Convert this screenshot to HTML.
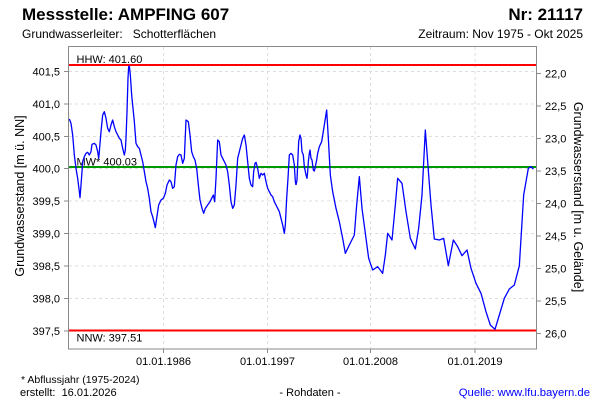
<!DOCTYPE html>
<html><head><meta charset="utf-8"><style>
html,body{margin:0;padding:0;background:#fff;}
svg{display:block;}
text{font-family:"Liberation Sans",Arial,sans-serif;fill:#000;}
</style></head><body>
<svg width="600" height="400" viewBox="0 0 600 400" xmlns="http://www.w3.org/2000/svg">
<rect width="600" height="400" fill="#fff"/>
<!-- header -->
<text x="22" y="20" font-size="17" font-weight="bold">Messstelle: AMPFING 607</text>
<text x="583" y="20" font-size="17" font-weight="bold" text-anchor="end">Nr: 21117</text>
<text x="22" y="38" font-size="12" xml:space="preserve">Grundwasserleiter:   Schotterflächen</text>
<text x="583" y="38" font-size="12" text-anchor="end">Zeitraum: Nov 1975 - Okt 2025</text>

<!-- grid -->
<g stroke="#dedede" stroke-width="1" stroke-dasharray="3,3" fill="none">
<line x1="69" x2="536" y1="71.5" y2="71.5"/>
<line x1="69" x2="536" y1="104" y2="104"/>
<line x1="69" x2="536" y1="136.5" y2="136.5"/>
<line x1="69" x2="536" y1="168.5" y2="168.5"/>
<line x1="69" x2="536" y1="201" y2="201"/>
<line x1="69" x2="536" y1="233.5" y2="233.5"/>
<line x1="69" x2="536" y1="266" y2="266"/>
<line x1="69" x2="536" y1="298.5" y2="298.5"/>
<line x1="163.5" x2="163.5" y1="47" y2="348"/>
<line x1="267.5" x2="267.5" y1="47" y2="348"/>
<line x1="370.5" x2="370.5" y1="47" y2="348"/>
<line x1="475" x2="475" y1="47" y2="348"/>
</g>

<!-- frame -->
<rect x="68.5" y="46.5" width="468" height="302.5" fill="none" stroke="#8a8a8a" stroke-width="1"/>

<!-- ticks -->
<g stroke="#8a8a8a" stroke-width="1">
<line x1="64" x2="68" y1="71.5" y2="71.5"/>
<line x1="64" x2="68" y1="104" y2="104"/>
<line x1="64" x2="68" y1="136.5" y2="136.5"/>
<line x1="64" x2="68" y1="168.5" y2="168.5"/>
<line x1="64" x2="68" y1="201" y2="201"/>
<line x1="64" x2="68" y1="233.5" y2="233.5"/>
<line x1="64" x2="68" y1="266" y2="266"/>
<line x1="64" x2="68" y1="298.5" y2="298.5"/>
<line x1="64" x2="68" y1="331" y2="331"/>
<line x1="537" x2="541" y1="73.5" y2="73.5"/>
<line x1="537" x2="541" y1="106" y2="106"/>
<line x1="537" x2="541" y1="138.5" y2="138.5"/>
<line x1="537" x2="541" y1="171" y2="171"/>
<line x1="537" x2="541" y1="203.5" y2="203.5"/>
<line x1="537" x2="541" y1="236" y2="236"/>
<line x1="537" x2="541" y1="268.5" y2="268.5"/>
<line x1="537" x2="541" y1="301" y2="301"/>
<line x1="537" x2="541" y1="333.5" y2="333.5"/>
<line x1="163.5" x2="163.5" y1="349" y2="353"/>
<line x1="267.5" x2="267.5" y1="349" y2="353"/>
<line x1="370.5" x2="370.5" y1="349" y2="353"/>
<line x1="475" x2="475" y1="349" y2="353"/>
</g>

<!-- left labels -->
<g font-size="11" text-anchor="end">
<text x="60" y="75.5">401,5</text>
<text x="60" y="108">401,0</text>
<text x="60" y="140.5">400,5</text>
<text x="60" y="172.5">400,0</text>
<text x="60" y="205">399,5</text>
<text x="60" y="237.5">399,0</text>
<text x="60" y="270">398,5</text>
<text x="60" y="302.5">398,0</text>
<text x="60" y="335">397,5</text>
</g>
<!-- right labels -->
<g font-size="11">
<text x="545" y="77.5">22,0</text>
<text x="545" y="110">22,5</text>
<text x="545" y="142.5">23,0</text>
<text x="545" y="175">23,5</text>
<text x="545" y="207.5">24,0</text>
<text x="545" y="240">24,5</text>
<text x="545" y="272.5">25,0</text>
<text x="545" y="305">25,5</text>
<text x="545" y="337.5">26,0</text>
</g>
<!-- x labels -->
<g font-size="11" text-anchor="middle">
<text x="163.5" y="365">01.01.1986</text>
<text x="267.5" y="365">01.01.1997</text>
<text x="370.5" y="365">01.01.2008</text>
<text x="475" y="365">01.01.2019</text>
</g>

<!-- axis titles -->
<text transform="translate(24,196) rotate(-90)" font-size="12.5" text-anchor="middle">Grundwasserstand [m ü. NN]</text>
<text transform="translate(574,197) rotate(90)" font-size="12.5" text-anchor="middle">Grundwasserstand [m u. Gelände]</text>

<!-- reference lines -->
<line x1="69" x2="536" y1="65" y2="65" stroke="#ff0000" stroke-width="2"/>
<line x1="69" x2="536" y1="167" y2="167" stroke="#009a00" stroke-width="2"/>
<line x1="69" x2="536" y1="330.5" y2="330.5" stroke="#ff0000" stroke-width="2"/>
<g font-size="11">
<text x="76.5" y="63">HHW: 401.60</text>
<text x="76.5" y="165.5">MW* 400.03</text>
<text x="76.5" y="341.5">NNW: 397.51</text>
</g>

<!-- data series -->
<g transform="translate(66,45) scale(0.333333)">
<polyline fill="none" stroke="#0000ff" stroke-width="1.3" vector-effect="non-scaling-stroke" stroke-linejoin="round" points="
10,222 15,235 20,270 25,330 30,370 35,400 40,440 42,458 45,420 48,380 50,350 55,335 60,325 65,322 70,330 75,320 78,298 85,295 90,300 95,320 98,340 100,320 105,260 110,210 115,200 120,220 125,250 130,260 135,240 140,225 145,245 150,260 155,270 160,280 165,285 170,310 175,330 178,315 180,280 183,200 186,100 188,65 190,63 193,90 197,150 200,180 205,230 210,295 215,305 220,310 225,330 230,350 235,380 240,410 245,430 250,460 255,500 260,515 265,535 268,548 272,520 278,480 285,465 292,460 298,445 303,420 310,405 315,410 320,430 325,425 330,360 335,335 340,328 345,330 350,355 355,340 360,225 367,230 372,270 377,320 382,335 387,345 392,370 397,420 402,465 408,490 413,505 418,490 425,480 432,470 437,460 442,450 446,470 450,400 455,285 460,290 465,330 470,340 475,350 480,360 485,380 490,420 495,470 500,490 505,480 510,420 515,340 520,320 525,300 530,280 535,270 540,300 545,350 550,400 555,420 560,425 563,380 567,355 570,352 575,370 580,400 585,385 590,390 595,385 600,410 605,430 610,440 615,450 620,455 625,470 630,480 635,490 640,500 645,520 650,540 655,565 658,540 662,460 666,400 670,330 675,325 680,330 685,360 688,410 690,420"/>
</g>
<g transform="translate(296,95) scale(0.333333)">
<polyline fill="none" stroke="#0000ff" stroke-width="1.3" vector-effect="non-scaling-stroke" stroke-linejoin="round" points="
0,270 3,255 8,140 12,120 15,130 18,170 22,180 25,215 30,240 33,250 35,230 37,200 40,175 42,165 45,190 48,195 52,225 55,228 58,215 62,195 65,175 70,155 77,140 85,90 92,45 97,130 103,240 110,290 120,340 130,380 140,430 148,475 160,450 175,420 182,330 190,245 198,340 210,430 218,490 230,525 245,515 260,535 268,480 275,415 288,435 298,330 305,250 318,265 330,350 343,430 358,462 368,400 378,300 388,105 395,200 405,330 415,432 430,435 443,430 457,512 472,435 485,455 498,482 513,465 525,520 540,565 555,595 570,650 583,690 597,703 610,660 625,610 640,582 655,570 670,512 683,300 690,260 697,220 705,215 712,222"/>
</g>

<!-- footer -->
<text x="21" y="383" font-size="10.5">* Abflussjahr (1975-2024)</text>
<text x="20" y="396" font-size="11" xml:space="preserve">erstellt:  16.01.2026</text>
<text x="310" y="396" font-size="11" text-anchor="middle">- Rohdaten -</text>
<text x="590" y="396" font-size="11.3" text-anchor="end" style="fill:#0000ff">Quelle: www.lfu.bayern.de</text>
</svg>
</body></html>
